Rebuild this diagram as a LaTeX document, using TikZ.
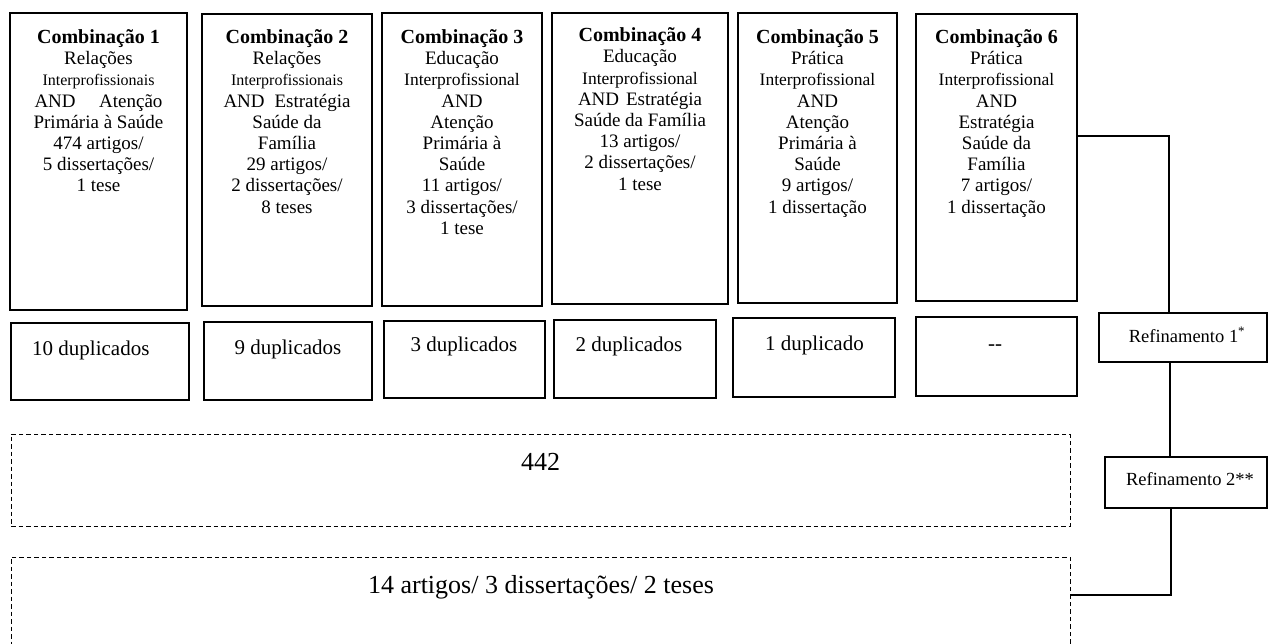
\documentclass[tikz,border=0pt]{standalone}
\usepackage{fontspec}
\setmainfont{Liberation Serif}
\newcommand\combhead[1]{{\fontsize{20}{21.2}\selectfont\bfseries #1}}
\newcommand\smallword[1]{{\fontsize{16}{21.2}\selectfont #1}}
\newcommand\midword[1]{{\fontsize{17.5}{21.2}\selectfont #1}}
\begin{document}
\begin{tikzpicture}[x=1pt,y=-1pt,
  box/.style={draw, line width=2pt, inner sep=0pt},
  dbox/.style={draw, line width=0.9pt, dash pattern=on 4.5pt off 3pt, inner sep=0pt},
  ctext/.style={align=center, inner sep=0pt, anchor=north, font=\fontsize{19}{21.2}\selectfont},
  duptext/.style={inner sep=0pt, anchor=base, font=\fontsize{21}{24}\selectfont},
  bigtext/.style={inner sep=0pt, anchor=base, font=\fontsize{26}{30}\selectfont},
  reftext/.style={inner sep=0pt, anchor=base, font=\fontsize{18.5}{22}\selectfont},
  conn/.style={line width=2.8pt}]
\useasboundingbox (0,0) rectangle (1269,644);
\clip (0,0) rectangle (1269,644);
% top boxes
\node[box, minimum width=177pt, minimum height=297pt] (b1) at (98.5,161.5) {};
\node[box, minimum width=170pt, minimum height=292pt] (b2) at (287,160) {};
\node[box, minimum width=160pt, minimum height=293pt] (b3) at (462,159.5) {};
\node[box, minimum width=176pt, minimum height=291pt] (b4) at (640,158.5) {};
\node[box, minimum width=159pt, minimum height=290pt] (b5) at (817.5,158) {};
\node[box, minimum width=161pt, minimum height=287pt] (b6) at (996.5,157.5) {};
\node[ctext] (t1) at (98.5,29.3) {\combhead{Combinação 1}\\Relações\\\smallword{Interprofissionais}\\\makebox[128pt][s]{AND Atenção}\\Primária à Saúde\\474 artigos/\\5 dissertações/\\1 tese};
\node[ctext] (t2) at (287,29.3) {\combhead{Combinação 2}\\Relações\\\smallword{Interprofissionais}\\\makebox[127pt][s]{AND Estratégia}\\Saúde da\\Família\\29 artigos/\\2 dissertações/\\8 teses};
\node[ctext] (t3) at (462,29.3) {\combhead{Combinação 3}\\Educação\\\midword{Interprofissional}\\AND\\Atenção\\Primária à\\Saúde\\11 artigos/\\3 dissertações/\\1 tese};
\node[ctext] (t4) at (640,27.5) {\combhead{Combinação 4}\\Educação\\\midword{Interprofissional}\\\makebox[124pt][s]{AND Estratégia}\\Saúde da Família\\13 artigos/\\2 dissertações/\\1 tese};
\node[ctext] (t5) at (817.5,29.3) {\combhead{Combinação 5}\\Prática\\\midword{Interprofissional}\\AND\\Atenção\\Primária à\\Saúde\\9 artigos/\\1 dissertação};
\node[ctext] (t6) at (996.5,29.3) {\combhead{Combinação 6}\\Prática\\\midword{Interprofissional}\\AND\\Estratégia\\Saúde da\\Família\\7 artigos/\\1 dissertação};
% duplicates row
\node[box, minimum width=178pt, minimum height=77pt] (d1) at (100,361.5) {};
\node[box, minimum width=168pt, minimum height=78pt] (d2) at (288,361) {};
\node[box, minimum width=161pt, minimum height=77pt] (d3) at (464.5,359.5) {};
\node[box, minimum width=162pt, minimum height=78pt] (d4) at (635,359) {};
\node[box, minimum width=162pt, minimum height=79pt] (d5) at (814,357.5) {};
\node[box, minimum width=161pt, minimum height=79pt] (d6) at (996.5,356.5) {};
\node[duptext, anchor=base west] (u1) at (32,355) {10 duplicados};
\node[duptext] (u2) at (288,354) {9 duplicados};
\node[duptext] (u3) at (464,352) {3 duplicados};
\node[duptext] (u4) at (629,352) {2 duplicados};
\node[duptext] (u5) at (814.5,350) {1 duplicado};
\node[duptext] (u6) at (995,350) {-{}-};
% dashed summary boxes
\node[dbox, minimum width=1059pt, minimum height=92pt] (s1) at (540.5,480) {};
\node[dbox, minimum width=1059pt, minimum height=130pt] (s2) at (540.5,622) {};
\node[bigtext] (s1t) at (540.5,470) {442};
\node[bigtext] (s2t) at (541,593) {14 artigos/ 3 dissertações/ 2 teses};
% refinement boxes
\node[box, minimum width=168pt, minimum height=49pt] (r1) at (1183,337.5) {};
\node[box, minimum width=162pt, minimum height=51pt] (r2) at (1186,482.5) {};
\node[reftext] (r1t) at (1187,342) {Refinamento 1\textsuperscript{*}};
\node[reftext] (r2t) at (1190,485) {Refinamento 2**};
% connectors
\coordinate (j1) at (1169,136);
\coordinate (j2) at (1171,595);
\draw[conn] (b6.east |- j1) -- (j1) -- (j1 |- r1.north);
\draw[conn] (1170,0 |- r1.south) -- (1170,0 |- r2.north);
\draw[conn] (j2 |- r2.south) -- (j2) -- (j2 -| s2.east);
\end{tikzpicture}
\end{document}
